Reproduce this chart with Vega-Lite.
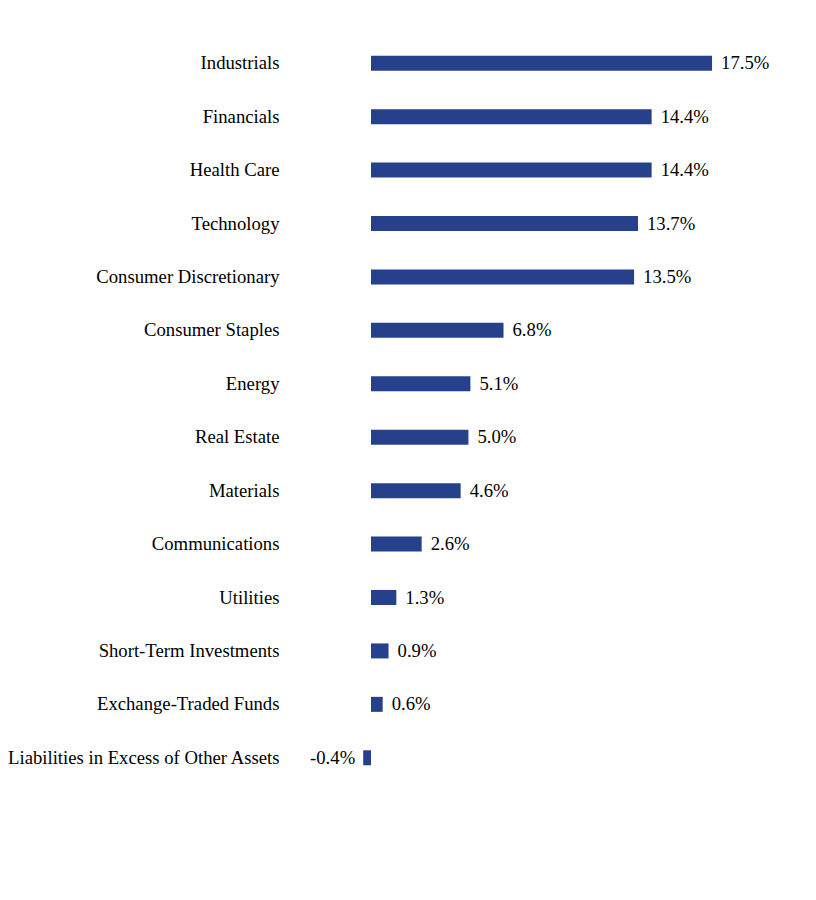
{
  "$schema": "https://vega.github.io/schema/vega-lite/v6.json",
  "width": 500,
  "height": 748,
  "autosize": {"type": "none"},
  "padding": {"left": 290, "top": 36.5, "right": 0, "bottom": 0},
  "background": "white",
  "config": {"view": {"stroke": null}, "font": "Liberation Serif"},
  "data": {"values": [
    {"sector": "Industrials", "value": 17.5, "label": "17.5%"},
    {"sector": "Financials", "value": 14.4, "label": "14.4%"},
    {"sector": "Health Care", "value": 14.4, "label": "14.4%"},
    {"sector": "Technology", "value": 13.7, "label": "13.7%"},
    {"sector": "Consumer Discretionary", "value": 13.5, "label": "13.5%"},
    {"sector": "Consumer Staples", "value": 6.8, "label": "6.8%"},
    {"sector": "Energy", "value": 5.1, "label": "5.1%"},
    {"sector": "Real Estate", "value": 5.0, "label": "5.0%"},
    {"sector": "Materials", "value": 4.6, "label": "4.6%"},
    {"sector": "Communications", "value": 2.6, "label": "2.6%"},
    {"sector": "Utilities", "value": 1.3, "label": "1.3%"},
    {"sector": "Short-Term Investments", "value": 0.9, "label": "0.9%"},
    {"sector": "Exchange-Traded Funds", "value": 0.6, "label": "0.6%"},
    {"sector": "Liabilities in Excess of Other Assets", "value": -0.4, "label": "-0.4%"}
  ]},
  "encoding": {
    "y": {"field": "sector", "type": "nominal", "sort": null,
      "scale": {"paddingInner": 0, "paddingOuter": 0},
      "axis": {"title": null, "domain": false, "ticks": false, "labelPadding": 11,
        "labelFont": "Liberation Serif", "labelFontSize": 18.7, "labelColor": "#000000", "labelLimit": 400}}
  },
  "layer": [
    {
      "mark": {"type": "bar", "color": "#27408B", "height": 15},
      "encoding": {
        "x": {"field": "value", "type": "quantitative", "scale": {"domain": [-4.156, 21.5], "nice": false, "zero": false}, "axis": null}
      }
    },
    {
      "transform": [{"filter": "datum.value >= 0"}],
      "mark": {"type": "text", "align": "left", "baseline": "middle", "dx": 9, "font": "Liberation Serif", "fontSize": 18.7, "color": "#000000"},
      "encoding": {
        "x": {"field": "value", "type": "quantitative"},
        "text": {"field": "label"}
      }
    },
    {
      "transform": [{"filter": "datum.value < 0"}],
      "mark": {"type": "text", "align": "right", "baseline": "middle", "dx": -8, "font": "Liberation Serif", "fontSize": 18.7, "color": "#000000"},
      "encoding": {
        "x": {"field": "value", "type": "quantitative"},
        "text": {"field": "label"}
      }
    }
  ]
}
